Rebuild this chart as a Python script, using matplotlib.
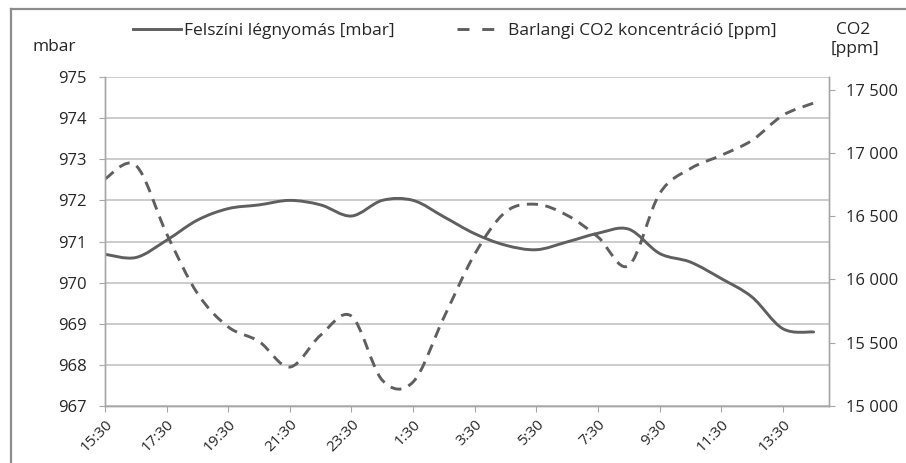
import matplotlib
matplotlib.use("Agg")
import matplotlib.pyplot as plt
from matplotlib.path import Path
from matplotlib.patches import PathPatch
from matplotlib.lines import Line2D
import numpy as np

plt.rcParams['font.family'] = ['Open Sans', 'DejaVu Sans']

# hours elapsed since 15:30 (hourly readings, 15:30 ... 14:30)
hours = list(range(24))
pressure = [970.69, 970.61, 971.03, 971.52, 971.80, 971.89, 972.00, 971.89,
            971.62, 972.00, 972.00, 971.60, 971.19, 970.91, 970.80, 970.99,
            971.20, 971.30, 970.71, 970.50, 970.10, 969.65, 968.88, 968.80]
co2 = [16795, 16902, 16362, 15890, 15625, 15510, 15308, 15560,
       15710, 15204, 15190, 15700, 16200, 16533, 16594, 16507,
       16336, 16110, 16678, 16876, 16981, 17099, 17297, 17394]
tick_pos = [0, 2, 4, 6, 8, 10, 12, 14, 16, 18, 20, 22]
tick_labels = ['15:30', '17:30', '19:30', '21:30', '23:30', '1:30', '3:30',
               '5:30', '7:30', '9:30', '11:30', '13:30']
left_ticks = [967, 968, 969, 970, 971, 972, 973, 974, 975]
right_ticks = [15000, 15500, 16000, 16500, 17000, 17500]
right_labels = ['15\u00a0000', '15\u00a0500', '16\u00a0000', '16\u00a0500', '17\u00a0000', '17\u00a0500']

LINE = '#5f5f5f'
GRID = '#bfbfbf'
SPINE = '#a6a6a6'
TXT = '#262626'


def smooth_path(xs, ys):
    """Excel-style smoothed line as cubic Bezier path through the data points."""
    pts = np.column_stack([xs, ys]).astype(float)
    n = len(pts)
    verts = [pts[0]]
    codes = [Path.MOVETO]
    for i in range(n - 1):
        p0 = pts[i - 1] if i > 0 else pts[i]
        p1 = pts[i]
        p2 = pts[i + 1]
        p3 = pts[i + 2] if i + 2 < n else pts[i + 1]
        c1 = p1 + (p2 - p0) / 6.0
        c2 = p2 - (p3 - p1) / 6.0
        verts += [c1, c2, p2]
        codes += [Path.CURVE4] * 3
    return Path(verts, codes)


fig = plt.figure(figsize=(9.06, 4.63), dpi=100)
ax = fig.add_axes([105 / 906, 1 - 406 / 463, (829 - 105) / 906, (406 - 77) / 463])
ax2 = ax.twinx()

ax.set_xlim(0, 23.5)
ax.set_ylim(967, 975)
ax2.set_ylim(15000, 17600)

ax.set_yticks(left_ticks)
ax.yaxis.grid(True, color=GRID, lw=1.1)
ax.set_axisbelow(True)
ax.set_xticks(tick_pos)
ax.set_xticklabels(tick_labels, rotation=45, ha='right', va='top',
                   rotation_mode='anchor')
ax2.set_yticks(right_ticks)
ax2.set_yticklabels(right_labels)

for a in (ax, ax2):
    a.spines['top'].set_visible(False)
    for s in ('left', 'right', 'bottom'):
        a.spines[s].set_color(SPINE)
        a.spines[s].set_linewidth(1.0)
ax.tick_params(axis='y', length=4, color=SPINE, labelsize=12, labelcolor=TXT, pad=9)
ax.tick_params(axis='x', length=4, color=SPINE, labelsize=11, labelcolor=TXT, pad=4)
ax2.tick_params(axis='y', length=4, color=SPINE, labelsize=12, labelcolor=TXT, pad=8)

p1 = PathPatch(smooth_path(hours, pressure), fill=False, edgecolor=LINE,
               lw=2.1, transform=ax.transData, capstyle='round')
ax.add_patch(p1)
p2 = PathPatch(smooth_path(hours, co2), fill=False, edgecolor=LINE,
               lw=2.1, transform=ax2.transData, linestyle=(0, (3.8, 2.6)))
ax2.add_patch(p2)

handles = [Line2D([], [], color=LINE, lw=2.1),
           Line2D([], [], color=LINE, lw=2.1, linestyle=(0, (4.1, 4.4)))]
fig.legend(handles, ['Felszíni légnyomás [mbar]', 'Barlangi CO2 koncentráció [ppm]'],
           loc='center left', bbox_to_anchor=(117 / 906, 1 - 31 / 463), ncol=2,
           frameon=False, fontsize=12.5, handlelength=2.8, handletextpad=0.15,
           columnspacing=3.6, labelcolor=TXT)

fig.text(33 / 906, 1 - 47 / 463, 'mbar', fontsize=12.5, color=TXT, va='center', ha='left')
fig.text(853 / 906, 1 - 30 / 463, 'CO2', fontsize=12.5, color=TXT, va='center', ha='center')
fig.text(855 / 906, 1 - 49 / 463, '[ppm]', fontsize=12.5, color=TXT, va='center', ha='center')

# document frame around the chart
fig.add_artist(Line2D([11 / 906, 11 / 906], [1 - 9 / 463, 0], transform=fig.transFigure,
                      color='#8c8c8c', lw=1.6))
fig.add_artist(Line2D([11 / 906, 1], [1 - 9 / 463, 1 - 9 / 463], transform=fig.transFigure,
                      color='#8c8c8c', lw=1.6))

fig.savefig('out.png', dpi=100)
